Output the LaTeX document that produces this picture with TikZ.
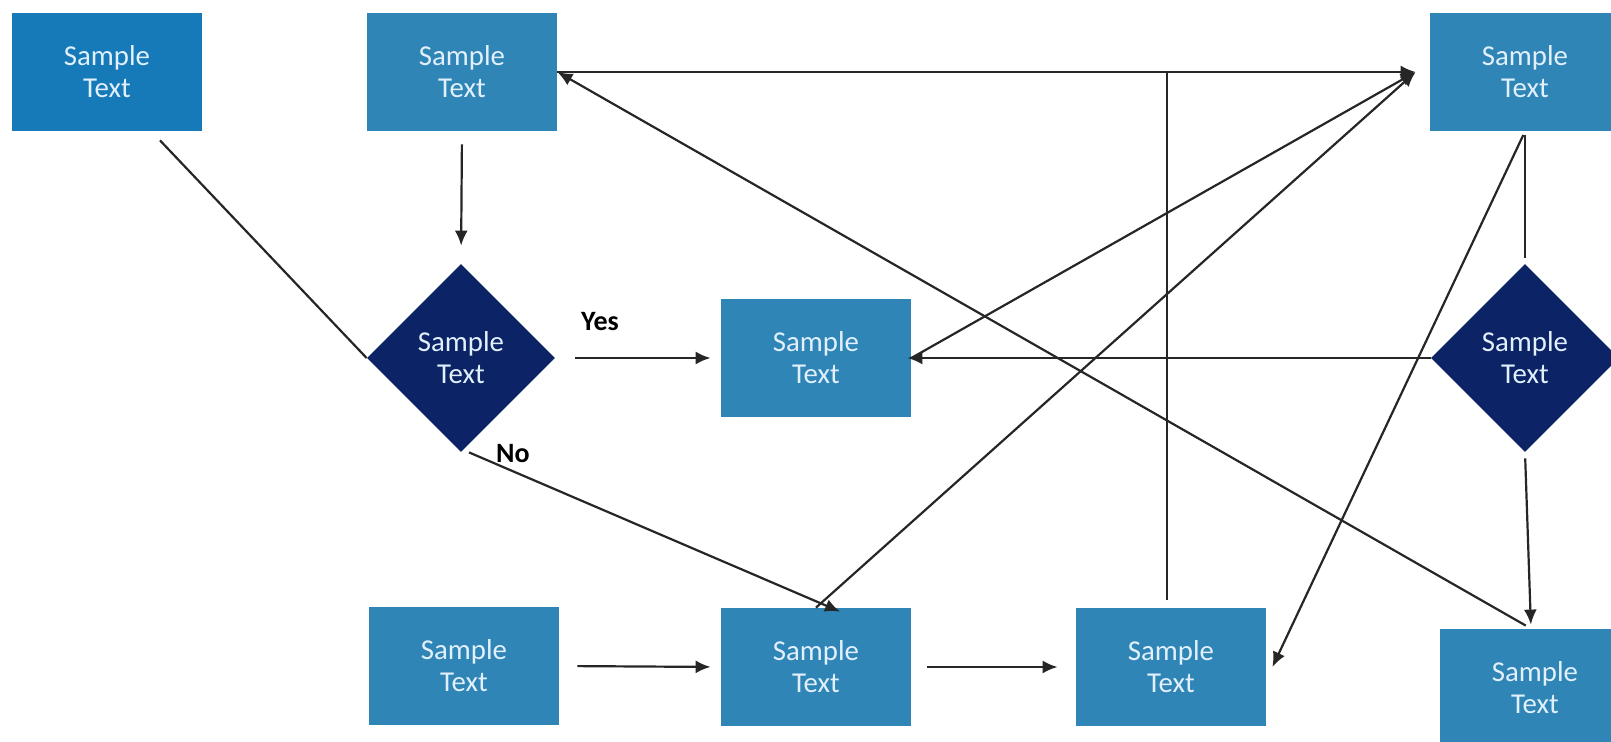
\documentclass[tikz,border=0pt]{standalone}
\usepackage{fontspec}
\setmainfont{Carlito}
\usetikzlibrary{shapes.geometric,arrows.meta}
\definecolor{boxblue}{RGB}{47,133,182}
\definecolor{startblue}{RGB}{22,122,184}
\definecolor{decnavy}{RGB}{12,36,102}
\definecolor{boxtext}{RGB}{225,240,252}
\begin{document}
\begin{tikzpicture}[x=0.5pt,y=-0.5pt,
    box/.style={rectangle,fill=boxblue,text=boxtext,minimum width=95pt,minimum height=59pt,inner sep=0pt,align=center,font=\fontsize{14.4}{16}\selectfont},
    dec/.style={diamond,fill=decnavy,text=boxtext,minimum width=94pt,minimum height=94pt,inner sep=0pt,align=center,font=\fontsize{14.4}{16}\selectfont},
    link/.style={line width=1.1pt,draw=black!85},
    arrow/.style={link,->,>={Latex[length=7.5pt,width=6.5pt]}},
    lbl/.style={font=\fontsize{14}{16}\selectfont\bfseries}]
    \useasboundingbox (0,0) rectangle (1611,742);
    % top row
    \node[box,fill=startblue] (a) at (107,72) {Sample\\Text};
    \node[box] (b) at (462,72) {Sample\\Text};
    \node[box] (c) at (1525,72) {Sample\\Text};
    % middle row
    \node[dec] (d1) at (461,358) {Sample\\Text};
    \node[box] (e) at (816,358) {Sample\\Text};
    \node[dec] (d2) at (1525,358) {Sample\\Text};
    % bottom row
    \node[box] (f) at (464,666) {Sample\\Text};
    \node[box] (g) at (816,667) {Sample\\Text};
    \node[box] (h) at (1171,667) {Sample\\Text};
    \node[box] (i) at (1535,688) {Sample\\Text};
    \coordinate (cin) at ([xshift=-7pt]c.west);
    \coordinate (j) at ([xshift=-2pt]h.north |- b.east);

    \draw[link] ([shift={(53,9)}]a.south) -- (d1.west);
    \draw[arrow,shorten <=6.5pt,shorten >=9pt] (b.south) -- (d1.north);
    \draw[arrow,shorten <=10pt,shorten >=5pt] (d1.east) -- (e.west) node[lbl,pos=0.27,above=10pt] {Yes};
    \draw[arrow] ([xshift=4pt]d1.south) -- ([xshift=12pt,yshift=-2pt]g.north) node[lbl,pos=0.07,anchor=south west,inner sep=0pt] {No};
    \draw[arrow,shorten <=9pt,shorten >=5pt] (f.east) -- (g.west);
    \draw[arrow,shorten <=8pt,shorten >=9pt] (g.east) -- (h.west);
    % long connectors
    \draw[arrow] (b.east) -- (cin);
    \draw[link,shorten <=4pt] ([xshift=-2pt]h.north) -- (j);
    \draw[arrow] (e.east) -- (cin);
    \draw[arrow] (g.north) -- (cin);
    \draw[link,shorten <=2pt,shorten >=3pt] (c.south) -- (d2.north);
    \draw[arrow,shorten <=2pt] (c.south) -- ([xshift=3pt]h.east);
    \draw[arrow,shorten >=-2pt] (d2.west) -- (e.east);
    \draw[arrow,shorten <=3pt,shorten >=2pt] (d2.south) -- ([xshift=-2pt]i.north);
    \draw[arrow,shorten <=3pt] ([xshift=-2pt]i.north) -- (b.east);
\end{tikzpicture}
\end{document}
